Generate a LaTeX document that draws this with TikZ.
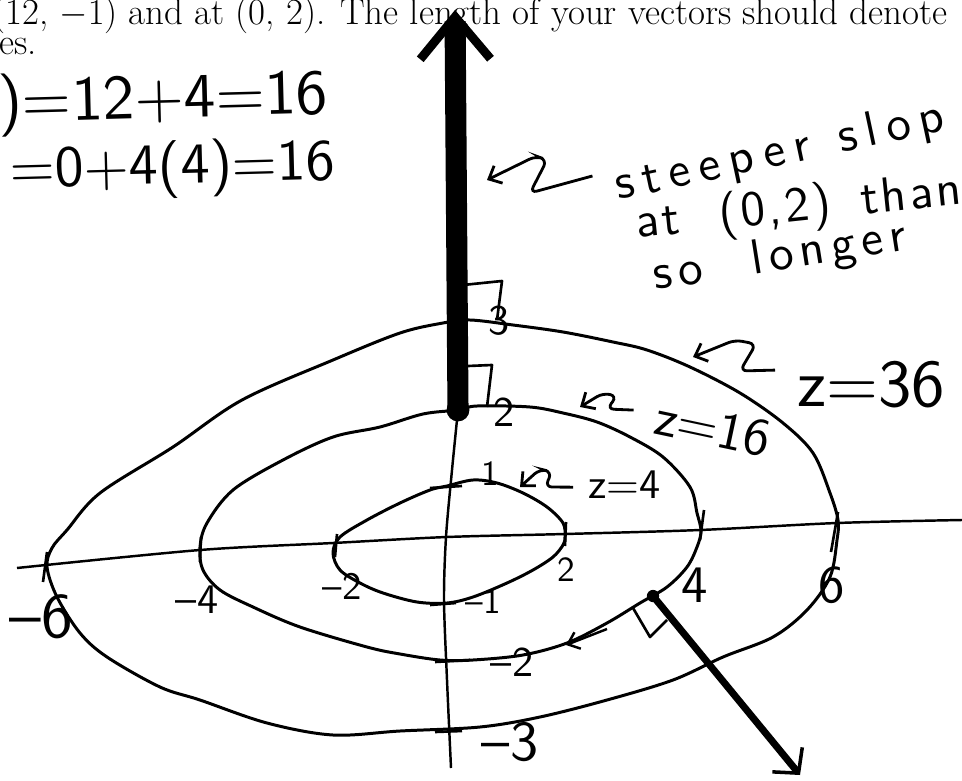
\documentclass[tikz,border=0pt]{standalone}
\usepackage{fontspec}
\usepackage{tikz}
\usetikzlibrary{calc}
\usetikzlibrary{arrows.meta}
\newfontfamily\handfont{lmsans10-regular.otf}
\newcommand\hs[1]{\handfont\fontsize{#1}{#1}\selectfont}
\tikzset{
	lvl/.style={line width=1.7pt,line join=round},
	ax/.style={line width=1.4pt},
	tk/.style={line width=1.5pt,line join=round},
	hw/.style={inner sep=0pt},
	squig/.style={line width=1.6pt,rounded corners=4pt,-{Straight Barb[length=6pt,width=11pt]}},
	blob/.style={circle,fill=black,inner sep=0pt},
	prn/.style={inner sep=0pt,anchor=base west,font=\fontsize{21}{25}\selectfont},
}

\begin{document}
\begin{tikzpicture}[x=0.02cm,y=-0.02cm]
	\path[use as bounding box,fill=white] (0,0) rectangle (962,780);
	\node[prn] (qline) at (-8,25) {(12, $-1$) and at (0, 2). The length of your vectors should denote};
	\node[prn] (qrest) at (-1,55) {es.};
	\node[hw,anchor=base west,rotate=1.5,font=\hs{36}] (eqa) at (-2,122) {)=12+4=16};
	\node[hw,anchor=base west,rotate=1.5,font=\hs{33}] (eqb) at (10,188) {=0+4(4)=16};

	\draw[ax] plot[smooth] coordinates {(17,568) (200,550) (333,543) (447,537) (565,534) (700,530) (837,523) (962,520)};
	\draw[ax] plot[smooth] coordinates {(458,410) (452,470) (446,537) (444,600) (447,680) (451,768)};

	\draw[lvl] plot[smooth cycle,tension=0.55] coordinates {(447,486) (473,480) (497,483) (523,493) (547,507) (563,523) (565,537) (563,545) (553,557) (533,570) (507,583) (473,597) (447,603) (417,602) (383,593) (360,583) (340,570) (333,553) (340,537) (367,520) (400,503) (430,490)};
	\draw[lvl] plot[smooth cycle,tension=0.55] coordinates {(458,410) (477,406) (530,407) (563,413) (597,422) (630,437) (663,457) (690,487) (697,513) (701,531) (697,547) (687,567) (667,587) (640,603) (607,623) (567,643) (523,655) (473,660) (440,660) (400,654) (367,647) (300,627) (253,607) (220,590) (203,570) (200,547) (207,523) (233,490) (283,460) (333,437) (380,427) (423,414)};
	\draw[lvl] plot[smooth cycle,tension=0.55] coordinates {(443,323) (470,320) (513,325) (563,332) (613,342) (647,350) (690,367) (740,393) (783,423) (813,453) (830,493) (838,520) (837,540) (830,577) (807,610) (773,637) (723,657) (673,680) (607,700) (540,717) (480,727) (400,731) (333,735) (267,723) (200,700) (160,687) (107,657) (80,633) (57,597) (47,567) (52,548) (67,530) (100,493) (173,447) (242,400) (333,360) (400,333)};

	\draw[tk] (47,552) -- (43,582);
	\draw[tk] (201,537) -- (200,562);
	\draw[tk] (337,534) -- (335,557);
	\draw[tk] (566,522) -- (565,546);
	\draw[tk] (704,510) -- (700,540);
	\draw[tk] (838,512) -- (831,552);
	\draw[tk] (430,488) -- (462,486);
	\draw[tk] (430,605) -- (456,603);
	\draw[tk] (435,662) -- (470,660);
	\draw[tk] (435,732) -- (462,731);

	\node[hw,font=\hs{36}] (xm6) at (41,617) {–6};
	\node[hw,font=\hs{24}] (xm4) at (197,600) {–4};
	\node[hw,font=\hs{22}] (xm2) at (342,586) {–2};
	\node[hw,font=\hs{20}] (xp2) at (566,570) {2};
	\node[hw,font=\hs{30}] (xp4) at (695,585) {4};
	\node[hw,font=\hs{30}] (xp6) at (832,585) {6};
	\node[hw,font=\hs{20}] (yp1) at (490,474) {1};
	\node[hw,font=\hs{24}] (yp2) at (504,412) {2};
	\node[hw,font=\hs{24}] (yp3) at (499,321) {3};
	\node[hw,font=\hs{20}] (ym1) at (483,602) {–1};
	\node[hw,font=\hs{24}] (ym2) at (512,662) {–2};
	\node[hw,font=\hs{32}] (ym3) at (510,742) {–3};

	\node[blob,minimum size=13pt] (P) at (458,410) {};
	\coordinate (Ptip) at (455,10);
	\draw[line width=12pt,-{Straight Barb[line width=5pt,length=24pt,width=40pt]}] (P.center) -- (Ptip);
	\draw[tk] (463,285) -- (502,281) -- (497,320);
	\draw[tk] (468,366) -- (492,365) -- (487,407);

	\node[blob,minimum size=7pt] (Q) at (653,596) {};
	\coordinate (Qtip) at (800,775);
	\draw[line width=4pt,-{Straight Barb[line width=2pt,length=10pt,width=22pt]}] (Q.center) -- (Qtip);
	\draw[tk] (633,608) -- (650,637) -- (667,620);
	\coordinate (Qtan) at (566,645);
	\draw[line width=1.4pt,-{Straight Barb[length=6pt,width=10pt]}] (607,629) -- (Qtan);

	\node[hw,anchor=base west,rotate=12,font={\hs{28}\addfontfeature{LetterSpace=18}}] (steep) at (618,200) {steeper\hspace{0.6em}slop};
	\node[hw,anchor=base west,rotate=6,font={\hs{28}\addfontfeature{LetterSpace=6}}] (steepb) at (637,238) {at\hspace{0.8em}(0,2)\hspace{0.6em}than};
	\node[hw,anchor=base west,rotate=9,font={\hs{28}\addfontfeature{LetterSpace=13}}] (steepc) at (655,290) {so\hspace{1em}longer};
	\coordinate (steeptip) at (487,180);
	\draw[squig] ($(steep.west)+(-23,-12)$) -- (530,193) -- (547,160) -- (536,156) -- (steeptip);

	\node[hw,anchor=base west,font=\hs{38}] (z36) at (797,406) {z=36};
	\coordinate (z36tip) at (693,357);
	\draw[squig] ($(z36.west)+(-22,-14)$) -- (740,371) -- (756,344) -- (735,340) -- (z36tip);

	\node[hw,anchor=base west,rotate=-12,font=\hs{30}] (z16) at (652,433) {z=16};
	\coordinate (z16tip) at (580,407);
	\draw[squig] ($(z16.west)+(-22,-6)$) -- (607,409) -- (617,396) -- (603,393) -- (z16tip);

	\node[hw,anchor=base west,font=\hs{24}] (z4) at (588,498) {z=4};
	\coordinate (z4tip) at (520,487);
	\draw[squig] ($(z4.west)+(-15,3)$) -- (545,487) -- (552,472) -- (540,469) -- (z4tip);
\end{tikzpicture}
\end{document}
